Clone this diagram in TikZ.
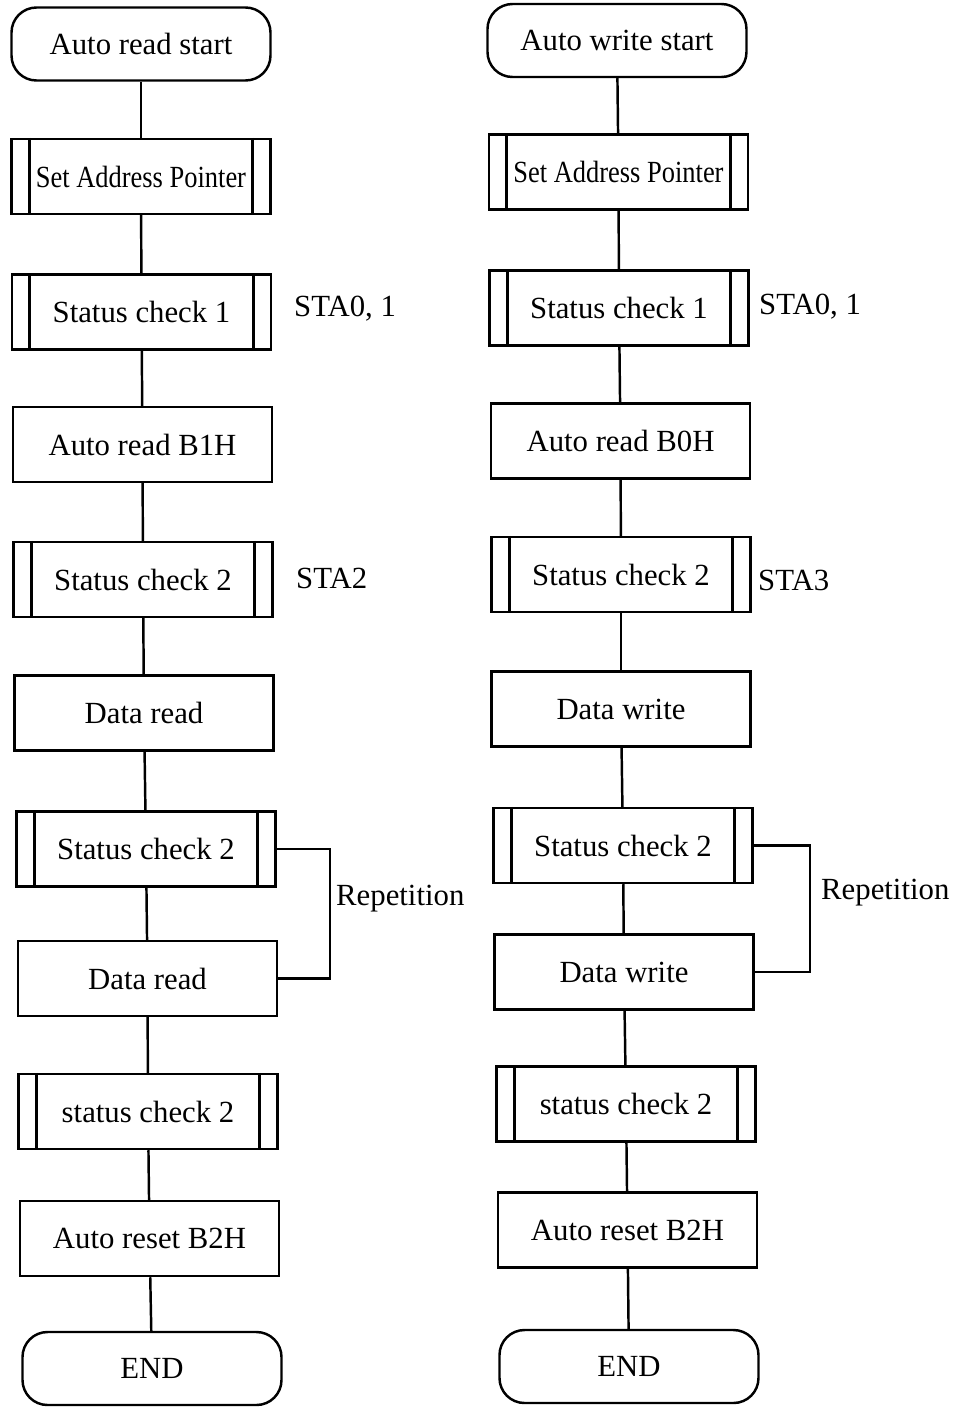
\documentclass[tikz,border=0pt]{standalone}
\usepackage{fontspec}
\setmainfont{Liberation Serif}

\begin{document}
\begin{tikzpicture}[
    line width=1.4pt,
    box/.style={
        rectangle,
        draw,
        minimum width=5.18cm,
        minimum height=1.5cm,
        inner sep=0pt,
        font=\fontsize{17.5}{20}\selectfont
    },
    sub/.style={
        box,
        append after command={
            ([xshift=0.38cm]\tikzlastnode.north west) edge[line width=1.8pt] ([xshift=0.38cm]\tikzlastnode.south west)
            ([xshift=-0.38cm]\tikzlastnode.north east) edge[line width=1.8pt] ([xshift=-0.38cm]\tikzlastnode.south east)
        }
    },
    term/.style={
        box,
        rounded corners=0.5cm,
        minimum height=1.46cm
    },
    note/.style={
        anchor=west,
        inner sep=0pt,
        font=\fontsize{17.5}{20}\selectfont
    }
]

    \useasboundingbox (0,0) rectangle (19.22,-28.16);

    % Read flow
    \node[term] (rstart) at (2.82,-0.88) {Auto read start};
    \node[sub]  (rsap)   at (2.82,-3.53) {\scalebox{0.86}[1]{Set Address Pointer}};
    \node[sub]  (rsc1)   at (2.83,-6.24) {Status check 1};
    \node[box]  (rcmd)   at (2.85,-8.89) {Auto read B1H};
    \node[sub]  (rsc2)   at (2.86,-11.59) {Status check 2};
    \node[box]  (rdata)  at (2.88,-14.26) {Data read};
    \node[sub]  (rsc3)   at (2.92,-16.98) {Status check 2};
    \node[box]  (rdata2) at (2.95,-19.57) {Data read};
    \node[sub]  (rsc4)   at (2.96,-22.23) {status check 2};
    \node[box]  (rreset) at (2.99,-24.77) {Auto reset B2H};
    \node[term] (rend)   at (3.04,-27.37) {END};

    % Read notes
    \node[note] (rsta1) at (5.86,-6.18) {STA0, 1};
    \node[note] (rsta2) at (5.90,-11.56) {STA2};
    \node[note] (rrep)  at (6.70,-17.98) {Repetition};
    \coordinate (rloop) at (6.60,-17.0);

    % Write flow
    \node[term] (wstart) at (12.34,-0.81) {Auto write start};
    \node[sub]  (wsap)   at (12.37,-3.44) {\scalebox{0.86}[1]{Set Address Pointer}};
    \node[sub]  (wsc1)   at (12.38,-6.16) {Status check 1};
    \node[box]  (wcmd)   at (12.41,-8.82) {Auto read B0H};
    \node[sub]  (wsc2)   at (12.42,-11.49) {Status check 2};
    \node[box]  (wdata)  at (12.42,-14.18) {Data write};
    \node[sub]  (wsc3)   at (12.46,-16.91) {Status check 2};
    \node[box]  (wdata2) at (12.48,-19.44) {Data write};
    \node[sub]  (wsc4)   at (12.52,-22.08) {status check 2};
    \node[box]  (wreset) at (12.55,-24.60) {Auto reset B2H};
    \node[term] (wend)   at (12.58,-27.33) {END};

    % Write notes
    \node[note] (wsta1) at (15.16,-6.14) {STA0, 1};
    \node[note] (wsta2) at (15.14,-11.60) {STA3};
    \node[note] (wrep)  at (16.40,-17.86) {Repetition};
    \coordinate (wloop) at (16.20,-17.0);

    % Read edges
    \draw (rstart) -- (rsap);
    \draw (rsap) -- (rsc1);
    \draw (rsc1) -- (rcmd);
    \draw (rcmd) -- (rsc2);
    \draw (rsc2) -- (rdata);
    \draw (rdata) -- (rsc3);
    \draw (rsc3) -- (rdata2);
    \draw (rdata2) -- (rsc4);
    \draw (rsc4) -- (rreset);
    \draw (rreset) -- (rend);
    \draw (rsc3.east) -- (rsc3.east -| rloop) |- (rdata2.east);

    % Write edges
    \draw (wstart) -- (wsap);
    \draw (wsap) -- (wsc1);
    \draw (wsc1) -- (wcmd);
    \draw (wcmd) -- (wsc2);
    \draw (wsc2) -- (wdata);
    \draw (wdata) -- (wsc3);
    \draw (wsc3) -- (wdata2);
    \draw (wdata2) -- (wsc4);
    \draw (wsc4) -- (wreset);
    \draw (wreset) -- (wend);
    \draw (wsc3.east) -- (wsc3.east -| wloop) |- (wdata2.east);

\end{tikzpicture}
\end{document}
